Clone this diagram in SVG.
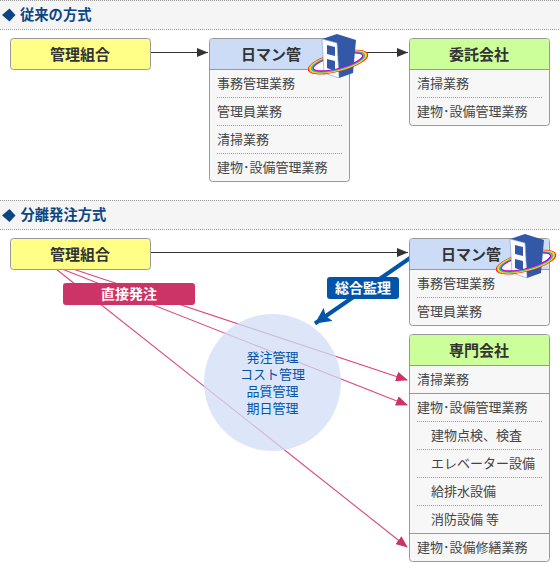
<svg xmlns="http://www.w3.org/2000/svg" width="560" height="581" viewBox="0 0 560 581">
<style>
text{font-family:"Noto Sans CJK JP","Noto Sans CJK SC",sans-serif}
.sec{font-size:14.3px;font-weight:700;fill:#0c4583}
.dia{fill:#0c4583}
.band{fill:#f5f5f5}
.dot{stroke:#999;stroke-width:1;stroke-dasharray:1 1;fill:none}
.box{fill:#f7f7f7;stroke:#999}
.sep{stroke:#999;fill:none}
.h{font-size:15px;font-weight:700;fill:#333;text-anchor:middle}
.r{font-size:13px;fill:#444}
.c{font-size:13px;fill:#0055aa;text-anchor:middle}
.lab{font-size:14px;font-weight:700;fill:#fff;text-anchor:middle}
.blk{stroke:#333;stroke-width:1.2;fill:none;marker-end:url(#ak)}
.pnk{stroke:#d9497f;stroke-width:1.1;fill:none;marker-end:url(#ap)}
</style>
<defs>
<marker id="ak" markerUnits="userSpaceOnUse" markerWidth="12" markerHeight="10" refX="11" refY="5" orient="auto"><path d="M0 .5L11 5L0 9.500Z" fill="#333"/></marker>
<marker id="ap" markerUnits="userSpaceOnUse" markerWidth="12" markerHeight="10" refX="11" refY="5" orient="auto"><path d="M0 0L12 5L0 10Z" fill="#cc3366"/></marker>
<marker id="ab" markerUnits="userSpaceOnUse" markerWidth="18" markerHeight="16" refX="16" refY="8" orient="auto"><path d="M0 0L16 8L0 16L3 8Z" fill="#0055aa"/></marker>
<clipPath id="fr"><rect x="300" y="62" width="80" height="20"/></clipPath>
<g id="ring" fill="none">
<ellipse cx="338" cy="62" rx="30.500" ry="9" stroke="#f22" stroke-width="1.200"/>
<ellipse cx="338" cy="62" rx="29.500" ry="8.500" stroke="#fa2" stroke-width="1.200"/>
<ellipse cx="338" cy="62" rx="28.500" ry="8" stroke="#ee2" stroke-width="1.200"/>
<ellipse cx="338" cy="62" rx="27.500" ry="7.500" stroke="#4c4" stroke-width="1.200"/>
<ellipse cx="338" cy="62" rx="26.500" ry="7" stroke="#2bd" stroke-width="1.200"/>
<ellipse cx="338" cy="62" rx="25.500" ry="6.500" stroke="#c0c" stroke-width="1.200"/>
</g>
<g id="bld">
<g transform="rotate(-15 338 62)">
<ellipse cx="338" cy="62" rx="25" ry="6" fill="#fff"/>
<use href="#ring"/>
</g>
<path d="M322 39L337 34L356 40L353 73L339 78L337 43Z" fill="#3458a8"/>
<path d="M322 39L337 43L339 78L324 73Z" fill="#fff" stroke="#7a97d4" stroke-width=".6"/>
<path d="M327 45L335 47V56L327 54ZM327 59L335 61V71L327 68Z" fill="#3458a8"/>
<g transform="rotate(-15 338 62)" clip-path="url(#fr)"><use href="#ring"/></g>
</g>
</defs>

<g id="section-1">
<rect class="band" x="0" y="0" width="560" height="29"/>
<path class="dot" d="M0 .5H560M0 29.500H560"/>
<path class="dia" d="M9.500 8.500L15.500 15L9.500 21.500L2 15Z"/>
<text class="sec" x="20" y="20">従来の方式</text>
</g>
<g id="section-2">
<rect class="band" x="0" y="200" width="560" height="29"/>
<path class="dot" d="M0 200.500H560M0 229.500H560"/>
<path class="dia" d="M9.500 209L15.500 215.500L9.500 222L2 215.500Z"/>
<text class="sec" x="20.500" y="220">分離発注方式</text>
</g>

<g id="connectors">
<path class="blk" d="M151 52.500H208"/>
<path class="blk" d="M350 52.500H408"/>
<path class="blk" d="M151 252.500H408"/>
<path class="pnk" d="M73 269L407 380"/>
<path class="pnk" d="M62 269L407 405"/>
<path class="pnk" d="M56 269L407 547"/>
</g>

<g id="circle">
<circle cx="272.500" cy="382.500" r="68.500" fill="#d2def6" fill-opacity=".75"/>
<text class="c"><tspan x="272.500" y="362">発注管理</tspan><tspan x="272.500" y="379">コスト管理</tspan><tspan x="272.500" y="396">品質管理</tspan><tspan x="272.500" y="413">期日管理</tspan></text>
</g>
<path d="M410 258L315 323.500" stroke="#0055aa" stroke-width="4" fill="none" marker-end="url(#ab)"/>

<g id="kumiai-1">
<rect x="10.500" y="38.500" width="140" height="31" rx="3" fill="#ffff88" stroke="#999"/>
<text class="h" x="80" y="60">管理組合</text>
</g>
<g id="nichiman-1">
<rect class="box" x="209.500" y="38.500" width="140" height="143" rx="3"/>
<path d="M210 69V41.500Q210 39 212.500 39H346.500Q349 39 349 41.500V69Z" fill="#ccdcf6"/>
<path class="sep" d="M209.500 69.500H349.500"/>
<path class="dot" d="M217 97.500H342M217 125.500H342M217 153.500H342"/>
<text class="h" x="271" y="60">日マン管</text>
<text class="r" x="217" y="88">事務管理業務</text>
<text class="r" x="217" y="116">管理員業務</text>
<text class="r" x="217" y="144">清掃業務</text>
<text class="r" x="217" y="172">建物･設備管理業務</text>
<use href="#bld"/>
</g>
<g id="itaku">
<rect class="box" x="409.500" y="38.500" width="140" height="87" rx="3"/>
<path d="M410 69V41.500Q410 39 412.500 39H546.500Q549 39 549 41.500V69Z" fill="#ccff99"/>
<path class="sep" d="M409.500 69.500H549.500"/>
<path class="dot" d="M417 97.500H542"/>
<text class="h" x="479" y="60">委託会社</text>
<text class="r" x="417" y="88">清掃業務</text>
<text class="r" x="417" y="116">建物･設備管理業務</text>
</g>

<g id="kumiai-2">
<rect x="10.500" y="238.500" width="140" height="31" rx="3" fill="#ffff88" stroke="#999"/>
<text class="h" x="80" y="260">管理組合</text>
</g>
<g id="label-direct">
<rect x="63" y="283" width="132" height="22" rx="3" fill="#cc3366"/>
<text class="lab" x="129" y="299">直接発注</text>
</g>
<g id="label-kansa">
<rect x="327" y="277" width="72" height="22" rx="3" fill="#0055aa"/>
<text class="lab" x="363" y="293">総合監理</text>
</g>
<g id="nichiman-2">
<rect class="box" x="409.500" y="238.500" width="140" height="87" rx="3"/>
<path d="M410 269V241.500Q410 239 412.500 239H546.500Q549 239 549 241.500V269Z" fill="#ccdcf6"/>
<path class="sep" d="M409.500 269.500H549.500"/>
<path class="dot" d="M417 297.500H542"/>
<text class="h" x="471" y="260">日マン管</text>
<text class="r" x="417" y="288">事務管理業務</text>
<text class="r" x="417" y="316">管理員業務</text>
<use href="#bld" x="188" y="200"/>
</g>
<g id="senmon">
<rect class="box" x="409.500" y="334.500" width="140" height="227" rx="3"/>
<path d="M410 365V337.500Q410 335 412.500 335H546.500Q549 335 549 337.500V365Z" fill="#ccff99"/>
<path class="sep" d="M409.500 365.500H549.500M409.500 393.500H549.500M409.500 533.500H549.500"/>
<path class="dot" d="M417 421.500H542M417 449.500H542M417 477.500H542M417 505.500H542"/>
<text class="h" x="479" y="356">専門会社</text>
<text class="r" x="417" y="384">清掃業務</text>
<text class="r" x="417" y="412">建物･設備管理業務</text>
<text class="r" x="431" y="440">建物点検、検査</text>
<text class="r" x="431" y="468">エレベーター設備</text>
<text class="r" x="431" y="496">給排水設備</text>
<text class="r" x="431" y="524">消防設備 等</text>
<text class="r" x="417" y="552">建物･設備修繕業務</text>
</g>
</svg>
